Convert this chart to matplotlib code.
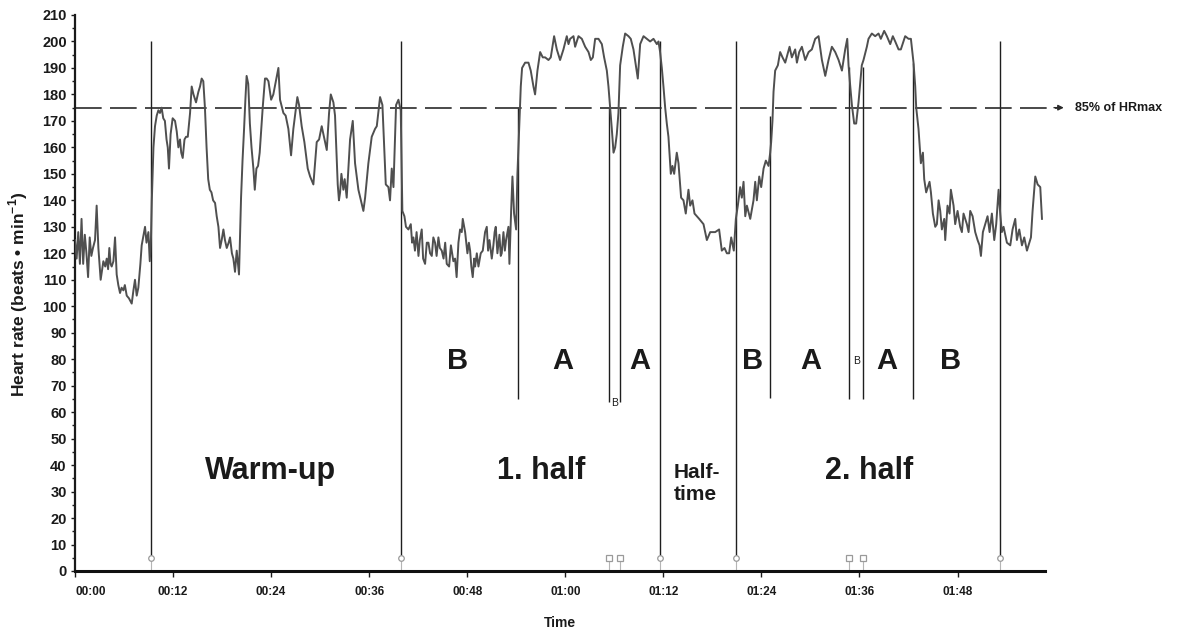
import matplotlib
matplotlib.use("Agg")
import matplotlib.pyplot as plt
from matplotlib.ticker import MultipleLocator

plt.rcParams['font.family'] = ['Liberation Sans', 'DejaVu Sans']
plt.rcParams['mathtext.fontset'] = 'custom'
plt.rcParams['mathtext.rm'] = 'Liberation Sans'
plt.rcParams['mathtext.bf'] = 'Liberation Sans:bold'

# ---------------- data (time in minutes, heart rate in beats/min) ----------------
pre_t = [0.0, 0.2, 0.4, 0.6, 0.8, 1.0, 1.2, 1.4, 1.6, 1.8,
         2.0, 2.2, 2.45, 2.65, 2.86, 3.14, 3.47, 3.7, 3.88, 4.05,
         4.2, 4.35, 4.49, 4.7, 4.9, 5.1, 5.3, 5.51, 5.7, 5.92,
         6.1, 6.33, 6.6, 6.94, 7.15, 7.34, 7.55, 7.75, 8.0, 8.16,
         8.4, 8.57, 8.75, 8.98, 9.15, 9.3]
pre_hr = [125, 118, 128, 116, 133, 116, 127, 120, 111, 126,
          119, 122, 125, 138, 122, 110, 117, 115, 118, 114,
          122, 116, 115, 117, 126, 112, 108, 105, 107, 106,
          108, 104, 103, 101, 106, 110, 104, 107, 116, 123,
          127, 130, 124, 128, 117, 126]

warm_t = [9.4, 9.6, 9.79, 10.0, 10.2, 10.4, 10.6, 10.8, 11.0, 11.2,
          11.35, 11.5, 11.7, 11.95, 12.24, 12.45, 12.65, 12.85, 13.0, 13.18,
          13.4, 13.59, 13.8, 14.08, 14.28, 14.5, 14.81, 15.1, 15.3, 15.5,
          15.7, 15.9, 16.1, 16.3, 16.5, 16.7, 16.9, 17.14, 17.34, 17.55,
          17.75, 17.95, 18.16, 18.35, 18.57, 18.8, 18.97, 19.2, 19.38, 19.58,
          19.79, 20.07, 20.32, 20.5, 20.69, 20.85, 21.0, 21.2, 21.4, 21.6,
          21.83, 22.0, 22.2, 22.4, 22.6, 22.8, 22.97, 23.25, 23.45, 23.67]
warm_hr = [140, 160, 168, 172, 174, 173, 175, 171, 170, 163,
           160, 152, 165, 171, 170, 166, 160, 163, 158, 156,
           163, 164, 164, 173, 183, 180, 177, 181, 183, 186,
           185, 175, 160, 148, 144, 143, 140, 139, 134, 130,
           122, 125, 129, 125, 122, 124, 126, 120, 118, 113,
           121, 112, 141, 155, 167, 178, 187, 184, 169, 160,
           152, 144, 152, 153, 158, 167, 175, 186, 186, 185]

warm2_t = [24.0, 24.27, 24.89, 25.09, 25.5, 25.78, 26.11, 26.44, 26.72, 27.21,
           27.42, 27.74, 28.07, 28.48, 28.77, 29.17, 29.58, 29.87, 30.19, 30.4,
           30.81, 31.09, 31.3, 31.62, 31.82, 32.15, 32.3, 32.44, 32.6, 32.84,
           33.0, 33.25, 33.46, 33.66, 33.99, 34.27, 34.68, 35.29, 35.5, 35.9,
           36.31, 36.72, 36.93, 37.33, 37.62, 38.03, 38.35, 38.55, 38.76, 38.97,
           39.29, 39.58, 39.86]
warm2_hr = [178, 180, 190, 178, 173, 172, 167, 157, 167, 179,
            176, 168, 162, 152, 149, 146, 162, 163, 168, 165,
            159, 173, 180, 177, 172, 146, 140, 143, 150, 144,
            148, 141, 152, 163, 170, 154, 144, 136, 141, 154,
            164, 167, 168, 179, 176, 146, 145, 140, 152, 145,
            176, 178, 174]

half1_t = [40.06, 40.31, 40.5, 40.8, 41.09, 41.25, 41.41, 41.6, 41.8, 42.03,
           42.2, 42.43, 42.6, 42.84, 43.05, 43.25, 43.45, 43.66, 43.85, 44.06,
           44.25, 44.47, 44.65, 44.88, 45.1, 45.3, 45.49, 45.78, 46.0, 46.1,
           46.3, 46.51, 46.7, 46.92, 47.12, 47.33, 47.45, 47.74, 48.02, 48.2,
           48.35, 48.5, 48.67, 48.85, 48.96, 49.17, 49.37, 49.65, 49.9, 50.18,
           50.39, 50.55, 50.72, 51.0, 51.2, 51.35, 51.49, 51.69, 51.94, 52.1,
           52.22, 52.43, 52.6, 52.75, 53.04, 53.16, 53.37, 53.53, 53.73, 53.98,
           54.14, 54.39, 54.55, 54.71, 55.08, 55.49, 55.77, 56.1, 56.3, 56.59,
           56.92, 57.24, 57.53, 57.94, 58.22, 58.63, 58.96, 59.36, 59.77, 60.18,
           60.39, 60.59, 61.0, 61.2, 61.61, 62.02, 62.43, 62.84, 63.12, 63.37,
           63.65, 64.06, 64.47, 64.75, 65.08, 65.28, 65.49, 65.69, 65.9, 66.1,
           66.3, 66.5, 66.71, 67.03, 67.32, 67.73, 68.01, 68.34, 68.63, 68.87,
           69.16, 69.57, 69.97, 70.38, 70.79, 71.2, 71.4, 71.6]
half1_hr = [136, 134, 130, 129, 131, 124, 126, 121, 128, 119,
            125, 129, 118, 116, 124, 124, 120, 119, 126, 124,
            119, 126, 122, 121, 118, 124, 116, 115, 123, 121,
            117, 118, 111, 124, 129, 128, 133, 128, 120, 124,
            121, 115, 111, 118, 115, 120, 115, 120, 121, 128,
            130, 121, 125, 118, 123, 128, 130, 120, 127, 119,
            120, 128, 121, 125, 130, 116, 136, 149, 135, 129,
            150, 170, 183, 190, 192, 192, 189, 183, 180, 189,
            196, 194, 194, 193, 194, 202, 197, 193, 197, 202,
            199, 201, 202, 198, 202, 201, 198, 196, 193, 194,
            201, 201, 199, 194, 189, 183, 175, 167, 158, 160,
            165, 173, 191, 198, 203, 202, 201, 197, 191, 186,
            199, 202, 201, 200, 201, 199, 200, 196]

break_t = [71.81, 72.01, 72.22, 72.42, 72.62, 72.91, 73.11, 73.32, 73.64, 73.85,
           74.17, 74.46, 74.74, 75.07, 75.28, 75.56, 75.81, 76.09, 76.38, 76.91,
           77.32, 77.73, 78.34, 78.82, 79.15, 79.48, 79.77, 80.05, 80.3, 80.62,
           80.87]
break_hr = [190, 183, 175, 169, 164, 150, 153, 150, 158, 154,
            141, 140, 135, 144, 138, 140, 135, 134, 133, 131,
            125, 128, 128, 129, 121, 122, 120, 120, 126, 121,
            133]

half2_t = [81.11, 81.4, 81.6, 81.81, 82.02, 82.22, 82.63, 83.03, 83.24, 83.44,
           83.73, 83.97, 84.26, 84.54, 84.87, 85.07, 85.19, 85.35, 85.48, 85.68,
           86.01, 86.29, 86.58, 86.91, 87.44, 87.72, 88.13, 88.34, 88.62, 88.95,
           89.36, 89.77, 90.17, 90.58, 90.99, 91.4, 91.81, 92.21, 92.62, 93.03,
           93.44, 93.85, 94.25, 94.5, 94.66, 94.87, 95.07, 95.35, 95.59, 95.88,
           96.28, 96.49, 96.9, 97.1, 97.51, 97.92, 98.33, 98.61, 99.02, 99.35,
           99.76, 100.08, 100.37, 100.78, 101.06, 101.59, 102.0, 102.29, 102.61, 102.82,
           102.94, 103.22, 103.51, 103.76, 103.92, 104.16, 104.57, 104.74, 104.98, 105.27,
           105.47, 105.68, 105.88, 106.08, 106.37, 106.49, 106.77, 107.02, 107.18, 107.51,
           107.71, 108.0, 108.32, 108.53, 108.73, 109.14, 109.35, 109.55, 109.84, 110.16,
           110.45, 110.69, 110.86, 111.1, 111.39, 111.67, 111.92, 112.2, 112.49, 112.73,
           113.02, 113.22, 113.42, 113.63, 114.04, 114.45, 114.73, 115.06, 115.26, 115.55,
           115.88, 116.16, 116.49, 116.78, 116.98, 117.18, 117.51, 117.8, 118.12, 118.33]
half2_hr = [138, 145, 141, 147, 134, 138, 133, 140, 147, 140,
            149, 145, 152, 155, 153, 158, 162, 170, 181, 189,
            191, 196, 194, 192, 198, 194, 197, 192, 196, 198,
            193, 196, 197, 201, 202, 193, 187, 193, 198, 196,
            193, 189, 197, 201, 191, 183, 176, 169, 169, 177,
            191, 193, 198, 201, 203, 202, 203, 201, 204, 202,
            199, 202, 200, 197, 197, 202, 201, 201, 192, 183,
            175, 167, 154, 158, 148, 143, 147, 143, 135, 130,
            131, 140, 136, 129, 133, 125, 138, 135, 144, 138,
            131, 136, 130, 128, 135, 131, 128, 136, 134, 128,
            125, 123, 119, 128, 131, 134, 128, 135, 125, 131,
            144, 135, 128, 130, 124, 123, 129, 133, 125, 129,
            123, 126, 121, 124, 126, 136, 149, 146, 145, 133]

# phase boundaries (full-height lines) and A/B boundaries (short lines)
phase_t = [9.3, 39.9, 71.6, 80.9, 113.2]
ab_t = [54.2, 65.4, 66.7, 85.0, 94.7, 96.4, 102.5]
ab_top = [175, 175, 175, 172, 190.5, 190.5, 192]
ab_bottom = [65, 64, 64, 65.5, 65, 65, 65]
flag_square_t = [65.3, 66.7, 94.7, 96.4]

threshold = 175  # 85% of HRmax

phase_labels = ["Warm-up", "1. half", "2. half"]
phase_label_t = [23.9, 57.1, 97.2]
ab_labels = ["B", "A", "A", "B", "A", "A", "B"]
ab_label_t = [46.8, 59.7, 69.1, 82.9, 90.0, 99.3, 107.2]
small_b_t = [66.05, 95.6]
small_b_hr = [63.4, 79.4]

xtick_minutes = [0, 12, 24, 36, 48, 60, 72, 84, 96, 108]
xtick_labels = ["%02d:%02d" % (m // 60, m % 60) for m in xtick_minutes]

# ---------------- figure ----------------
W, H = 1180, 633
fig = plt.figure(figsize=(W / 100, H / 100), dpi=100)
ax = fig.add_axes([75 / W, 1 - 571 / H, (1045 - 75) / W, (571 - 15) / H])

t_all = pre_t + warm_t + warm2_t + half1_t + break_t + half2_t
hr_all = pre_hr + warm_hr + warm2_hr + half1_hr + break_hr + half2_hr
ax.plot(t_all, hr_all, color='#4f4f4f', lw=1.4, zorder=3, solid_joinstyle='round')

line_col = '#1e1e1e'
ax.vlines(phase_t, 5, 200, color=line_col, lw=1.0, zorder=2)
ax.vlines(ab_t, ab_bottom, ab_top, color=line_col, lw=1.0, zorder=2)

# small flags at the bottom
ax.vlines(phase_t + flag_square_t, 0, 5, color='#b5b5b5', lw=0.8, zorder=2)
ax.plot(phase_t, [5] * len(phase_t), 'o', ms=4, mfc='white', mec='#9a9a9a', mew=0.9,
        zorder=4, clip_on=False)
ax.plot(flag_square_t, [5] * len(flag_square_t), 's', ms=3.8, mfc='white', mec='#9a9a9a',
        mew=0.9, zorder=4, clip_on=False)

# threshold dashed line with arrow
ax.plot([0, 120.2], [threshold, threshold], color='#2a2a2a', lw=1.2, dashes=(16, 5),
        clip_on=False, zorder=2)
ax.annotate('', xy=(121.0, threshold), xytext=(119.8, threshold), annotation_clip=False,
            arrowprops=dict(arrowstyle='-|>', color='#2a2a2a', lw=1.0, mutation_scale=8,
                            shrinkA=0, shrinkB=0))
ax.text(122.4, threshold, "85% of HRmax", fontsize=9, fontweight='bold', color='#1a1a1a',
        ha='left', va='center', clip_on=False)

# phase labels
for lab, tt in zip(phase_labels, phase_label_t):
    ax.text(tt, 37.6, lab, fontsize=22, fontweight='bold', color='#1a1a1a',
            ha='center', va='center')
ax.text(73.3, 32.9, "Half-\ntime", fontsize=15, fontweight='bold', color='#1a1a1a',
        ha='left', va='center', linespacing=1.2)
for lab, tt in zip(ab_labels, ab_label_t):
    ax.text(tt, 79.2, lab, fontsize=21, fontweight='bold', color='#1a1a1a',
            ha='center', va='center')
for tt, yy in zip(small_b_t, small_b_hr):
    ax.text(tt, yy, "B", fontsize=7.5, color='#1a1a1a', ha='center', va='center')

# axes
ax.set_xlim(0, 118.7)
ax.set_ylim(0, 210)
ax.set_xticks(xtick_minutes)
ax.set_xticklabels(xtick_labels)
ax.xaxis.get_majorticklabels()[0].set_horizontalalignment('left')
ax.yaxis.set_major_locator(MultipleLocator(10))
ax.yaxis.set_minor_locator(MultipleLocator(5))
ax.tick_params(axis='x', length=4, width=1, pad=7, labelsize=8.5, colors='#1a1a1a')
ax.tick_params(axis='y', which='major', length=3, width=1, pad=3, labelsize=10.5,
               colors='#1a1a1a')
ax.tick_params(axis='y', which='minor', length=2, width=1, colors='#1a1a1a')
for lab in ax.get_xticklabels() + ax.get_yticklabels():
    lab.set_fontweight('bold')

for s in ['top', 'right']:
    ax.spines[s].set_visible(False)
ax.spines['left'].set_linewidth(1.6)
ax.spines['bottom'].set_linewidth(2.2)
ax.spines['left'].set_color('#1a1a1a')
ax.spines['bottom'].set_color('#111111')

fig.text(560 / W, 1 - 622.7 / H, "Time", fontsize=10, fontweight='bold', color='#1a1a1a',
         ha='center', va='center')
fig.text(18 / W, 1 - 294 / H, r"Heart rate (beats • min$^{\mathbf{-1}}$)", fontsize=12.5,
         fontweight='bold', color='#1a1a1a', rotation=90, ha='center', va='center')

fig.savefig('out.png', dpi=100)
